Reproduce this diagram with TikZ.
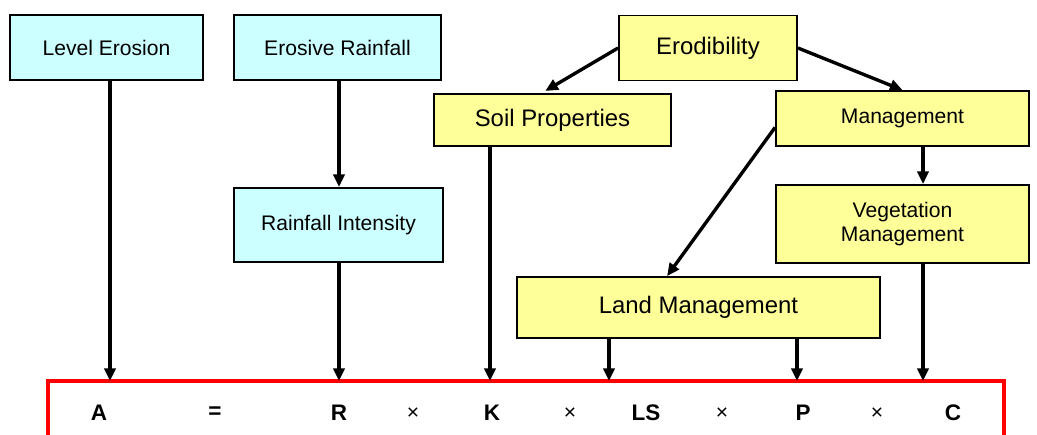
\documentclass[tikz,border=0pt]{standalone}
\usepackage{fontspec}
\setmainfont{Liberation Sans}
\usetikzlibrary{arrows.meta}
\definecolor{boxcyan}{HTML}{CCFFFF}
\definecolor{boxyellow}{HTML}{FFFF99}

\begin{document}
\begin{tikzpicture}[x=0.025cm, y=-0.025cm,
  cbox/.style={draw, fill=boxcyan, line width=1.3pt, inner sep=0pt, align=center,
    font=\fontsize{15}{17}\selectfont},
  ybox/.style={cbox, fill=boxyellow},
  big/.style={font=\fontsize{17}{19}\selectfont},
  arr/.style={line width=2.4pt, -{Triangle[length=9pt, width=8pt]}},
  sym/.style={font=\fontsize{16}{18}\selectfont\bfseries},
  times/.style={font=\fontsize{15}{17}\selectfont}]
\useasboundingbox (0,0) rectangle (1037,434);

% boxes
\node [cbox, minimum width=4.825cm, minimum height=1.625cm, name=lvl]   at (106.5,47.5) {Level Erosion};
\node [cbox, minimum width=5.175cm, minimum height=1.625cm, name=erain] at (337.5,47.5) {Erosive Rainfall};
\node [cbox, minimum width=5.225cm, minimum height=1.85cm,  name=rint]  at (338.5,225) {Rainfall Intensity};
\node [ybox, big, minimum width=4.45cm,  minimum height=1.625cm, name=erod]  at (708,48) {Erodibility};
\node [ybox, big, minimum width=5.925cm, minimum height=1.3cm,   name=sprop] at (552.5,120) {Soil Properties};
\node [ybox, minimum width=6.325cm, minimum height=1.375cm, name=mgmt]  at (902.5,118.5) {Management};
\node [ybox, minimum width=6.325cm, minimum height=1.95cm,  name=veg]   at (902.5,224) {Vegetation\\Management};
\node [ybox, big, minimum width=9.075cm, minimum height=1.525cm, name=land]  at (698.5,307.5) {Land Management};

% equation box
\draw [red, line width=2.4pt] (48,381) rectangle (1004,480);
\coordinate (tA)  at (110,381);
\coordinate (tR)  at (339,381);
\coordinate (tK)  at (490,381);
\coordinate (tLS) at (609,381);
\coordinate (tP)  at (797,381);
\coordinate (tC)  at (923,381);

\node [sym, name=fA]    at (99,413)  {A};
\node [sym, name=feq]   at (215,413) {=};
\node [sym, name=fR]    at (339,413) {R};
\node [times, name=fx1] at (413,414) {×};
\node [sym, name=fK]    at (492,413) {K};
\node [times, name=fx2] at (570,414) {×};
\node [sym, name=fLS]   at (646,413) {LS};
\node [times, name=fx3] at (722,414) {×};
\node [sym, name=fP]    at (803,413) {P};
\node [times, name=fx4] at (877,414) {×};
\node [sym, name=fC]    at (953,413) {C};

% arrows
\draw [arr] (lvl.south -| tA) to (tA);
\draw [arr] (erain.south -| tR) to (rint.north -| tR);
\draw [arr] (rint.south -| tR) to (tR);
\draw [arr, shorten >=3pt] (erod.west) to (sprop.112);
\draw [arr] (erod.east) to (mgmt.north);
\draw [arr] (sprop.south -| tK) to (tK);
\draw [arr] (mgmt.184) to (land.135);
\draw [arr] (mgmt.south -| tC) to (veg.north -| tC);
\draw [arr] (veg.south -| tC) to (tC);
\draw [arr] (land.south -| tLS) to (tLS);
\draw [arr] (land.south -| tP) to (tP);
\end{tikzpicture}
\end{document}
